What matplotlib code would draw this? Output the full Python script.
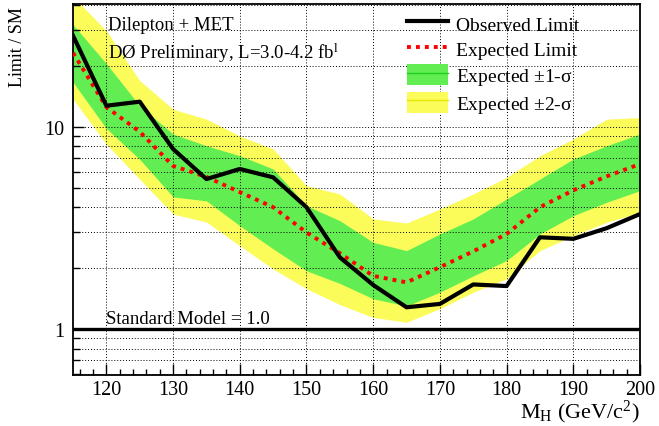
import matplotlib
matplotlib.use("Agg")
import matplotlib.pyplot as plt
from matplotlib.lines import Line2D
from matplotlib.patches import Patch
from matplotlib.ticker import FixedLocator, NullFormatter

plt.rcParams["font.family"] = ["Liberation Serif", "DejaVu Serif"]
plt.rcParams["mathtext.fontset"] = "custom"
plt.rcParams["mathtext.rm"] = "Liberation Serif"
plt.rcParams["mathtext.it"] = "Liberation Serif:italic"

# Higgs mass points (GeV/c^2)
mass = [115, 120, 125, 130, 135, 140, 145, 150, 155, 160,
        165, 170, 175, 180, 185, 190, 195, 200]

# limits relative to SM
observed = [28.2, 12.7, 13.3, 7.76, 5.51, 6.18, 5.62, 4.0, 2.26, 1.65,
            1.28, 1.33, 1.66, 1.63, 2.84, 2.79, 3.15, 3.70]
expected = [23.2, 12.5, 9.45, 6.4, 5.65, 4.75, 4.0, 3.0, 2.37, 1.83,
            1.70, 2.02, 2.42, 2.95, 4.0, 4.85, 5.68, 6.54]
sigma1_lo = [16.6, 9.8, 6.9, 4.5, 4.3, 3.24, 2.49, 1.94, 1.68, 1.41,
             1.30, 1.52, 1.83, 2.18, 2.95, 3.63, 4.23, 4.83]
sigma1_hi = [32.0, 20.5, 12.7, 9.2, 8.05, 7.19, 6.18, 4.07, 3.43, 2.68,
             2.44, 2.95, 3.5, 4.39, 5.51, 6.92, 8.05, 9.2]
sigma2_lo = [13.7, 8.2, 5.5, 3.7, 3.38, 2.58, 1.98, 1.58, 1.32, 1.14,
             1.08, 1.26, 1.52, 1.77, 2.44, 2.89, 3.37, 3.77]
sigma2_hi = [44.0, 29.8, 16.9, 12.2, 10.9, 9.0, 7.76, 5.11, 4.65, 3.5,
             3.34, 3.92, 4.65, 5.62, 7.19, 8.7, 10.9, 11.1]

sm_level = 1.0

YELLOW = "#fbfb5a"
GREEN = "#62ee52"

fig = plt.figure(figsize=(6.59, 4.27), dpi=100)
ax = fig.add_axes([0.1108, 0.1201, 0.8604, 0.8675])

ax.fill_between(mass, sigma2_lo, sigma2_hi, color=YELLOW, lw=0, zorder=1)
ax.fill_between(mass, sigma1_lo, sigma1_hi, color=GREEN, lw=0, zorder=2)
ax.plot(mass, expected, color="red", lw=2.8, ls=(0, (1, 1.3)), zorder=4)
ax.plot(mass, observed, color="black", lw=3, zorder=5)
ax.axhline(sm_level, color="black", lw=2.4, zorder=5)

ax.set_yscale("log")
ax.set_xlim(115, 200)
ax.set_ylim(0.594, 40.3)

ax.yaxis.set_major_locator(FixedLocator([1, 10]))
ax.yaxis.set_minor_locator(FixedLocator(
    [0.6, 0.7, 0.8, 0.9, 2, 3, 4, 5, 6, 7, 8, 9, 20, 30, 40]))
ax.yaxis.set_minor_formatter(NullFormatter())
ax.set_yticklabels(["1", "10"])
ax.set_xticks(range(120, 201, 10))
ax.set_xticks(range(116, 201, 2), minor=True)

ax.tick_params(axis="both", which="both", direction="in", labelsize=14.5,
               top=False, right=False)
ax.tick_params(axis="x", which="major", length=8, width=1, pad=4)
ax.tick_params(axis="x", which="minor", length=4, width=1)
ax.tick_params(axis="y", which="major", length=8, width=1, pad=6)
ax.tick_params(axis="y", which="minor", length=5, width=1)

grid_style = dict(color="black", lw=0.7, ls=(0, (1, 2)), zorder=3)
ax.grid(True, axis="x", which="major", **grid_style)
ax.grid(True, axis="y", which="both", **grid_style)
ax.set_axisbelow(False)

for spine in ax.spines.values():
    spine.set_linewidth(1.3)

ax.text(0.0618, 0.933, "Dilepton + MET", transform=ax.transAxes,
        fontsize=13.5, va="baseline", ha="left")
ax.text(0.0618, 0.854, r"DØ Preliminary, L=3.0-4.2 fb$^{\mathrm{l}}$",
        transform=ax.transAxes, fontsize=13.5, va="baseline", ha="left")
ax.text(120, 1.067, "Standard Model = 1.0", fontsize=13.5,
        va="baseline", ha="left")

handles = [
    Line2D([], [], color="black", lw=3),
    Line2D([], [], color="red", lw=2.8, ls=(0, (1, 1.3))),
    (Patch(facecolor=GREEN, lw=0), Line2D([], [], color="#22cc22", lw=1)),
    (Patch(facecolor=YELLOW, lw=0), Line2D([], [], color="#e8e800", lw=1)),
]
labels = ["Observed Limit", "Expected Limit",
          r"Expected $\pm$1-σ", r"Expected $\pm$2-σ"]
ax.legend(handles, labels, loc="upper left", bbox_to_anchor=(0.582, 0.987),
          frameon=False, fontsize=14, handlelength=2.1, handleheight=1.25,
          handletextpad=0.45, labelspacing=0.25, borderaxespad=0,
          borderpad=0.2)

fig.text(0.027, 0.984, "Limit / SM", rotation=90, ha="center", va="top",
         fontsize=13)
fig.text(0.971, 0.002, r"M$_{\mathrm{H}}$ (GeV/c$^{2}$)", ha="right",
         va="bottom", fontsize=16)

fig.savefig("out.png", dpi=100)
